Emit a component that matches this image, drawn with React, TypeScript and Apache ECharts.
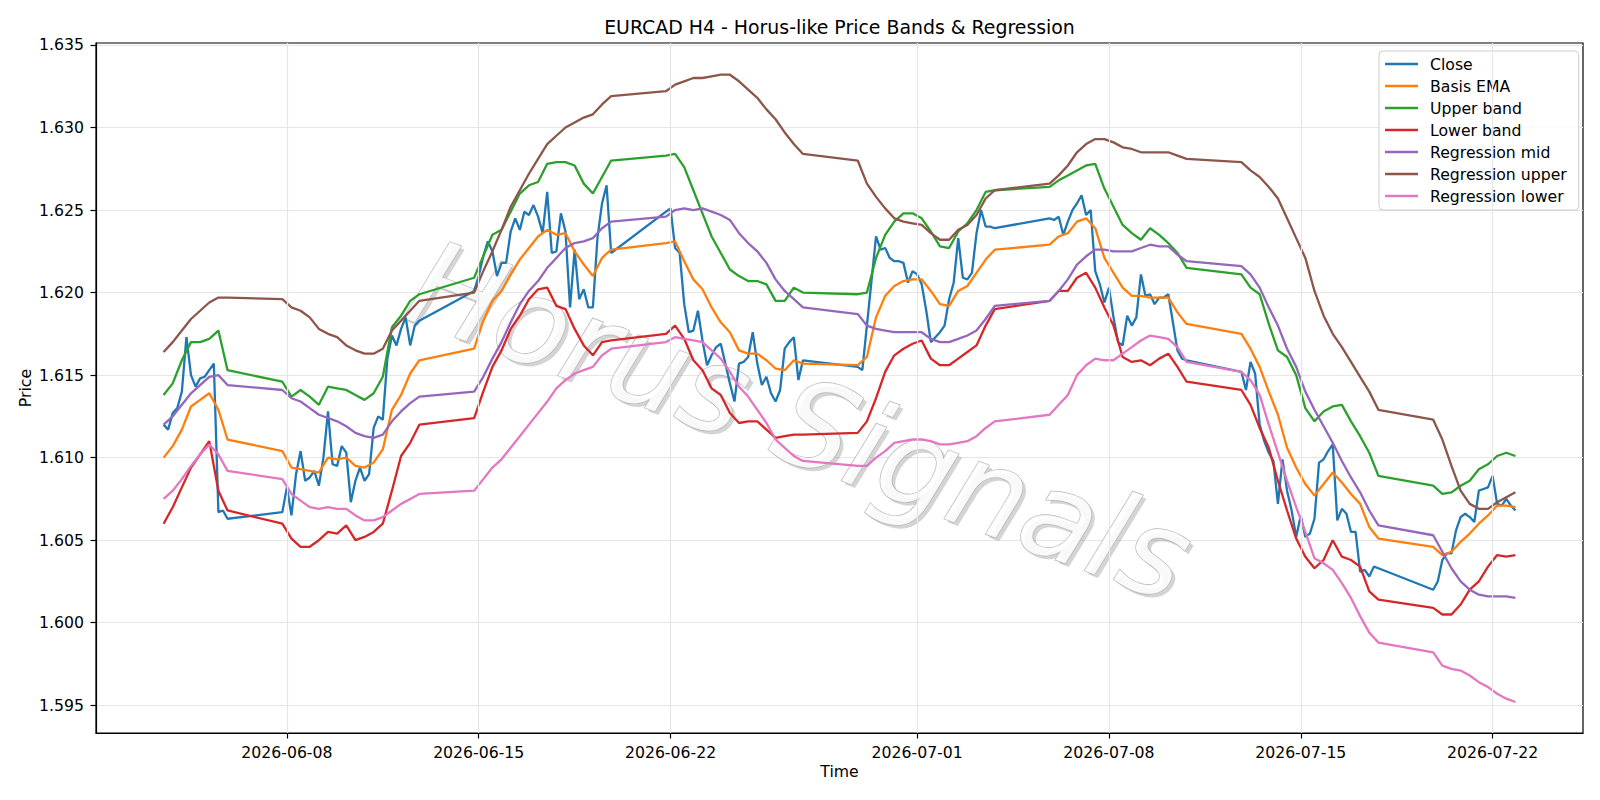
import React, { useEffect, useRef } from "react";
import * as echarts from "echarts";

// H4 trading segments (UTC start of first bar, number of 4h bars)
const SEG_START = [
  "2026-06-03T12:00:00Z", "2026-06-07T20:00:00Z", "2026-06-14T20:00:00Z", "2026-06-21T20:00:00Z",
  "2026-06-28T20:00:00Z", "2026-07-05T20:00:00Z", "2026-07-12T20:00:00Z", "2026-07-19T20:00:00Z",
];
const SEG_BARS = [15, 31, 31, 31, 31, 31, 31, 19];

const X_TICKS = ["2026-06-08", "2026-06-15", "2026-06-22", "2026-07-01", "2026-07-08", "2026-07-15", "2026-07-22"];
const Y_TICKS = [1.595, 1.6, 1.605, 1.61, 1.615, 1.62, 1.625, 1.63, 1.635];
const Y_MIN = 1.59332;
const Y_MAX = 1.63512;

// Close, every 4h bar
const CLOSE = [
  1.6120, 1.6117, 1.6127, 1.6130, 1.6140, 1.6173, 1.6150, 1.6143, 1.6148, 1.6149, 1.6153, 1.6157, 1.6067, 1.6068, 1.6063,
  1.6067, 1.6082, 1.6065, 1.6090, 1.6104, 1.6086, 1.6088, 1.6092, 1.6083, 1.6100, 1.6128, 1.6096, 1.6095, 1.6107, 1.6103, 1.6073, 1.6086, 1.6094, 1.6086, 1.6090, 1.6118, 1.6125, 1.6123, 1.6160, 1.6174, 1.6168, 1.6178, 1.6185, 1.6168, 1.6180, 1.6183,
  1.6201, 1.6210, 1.6222, 1.6231, 1.6225, 1.6210, 1.6218, 1.6218, 1.6237, 1.6245, 1.6238, 1.6249, 1.6247, 1.6253, 1.6246, 1.6236, 1.6261, 1.6224, 1.6225, 1.6248, 1.6237, 1.6191, 1.6226, 1.6196, 1.6202, 1.6191, 1.6191, 1.6233, 1.6254, 1.6265, 1.6224,
  1.6249, 1.6251, 1.6227, 1.6224, 1.6193, 1.6176, 1.6177, 1.6189, 1.6171, 1.6156, 1.6162, 1.6167, 1.6169, 1.6157, 1.6145, 1.6134, 1.6157, 1.6158, 1.6161, 1.6176, 1.6157, 1.6144, 1.6149, 1.6139, 1.6134, 1.6141, 1.6166, 1.6170, 1.6173, 1.6147, 1.6159,
  1.6155, 1.6153, 1.6180, 1.6207, 1.6234, 1.6226, 1.6227, 1.6221, 1.6219, 1.6219, 1.6218, 1.6206, 1.6213, 1.6211, 1.6205, 1.6189, 1.6170, 1.6173, 1.6176, 1.6180, 1.6196, 1.6206, 1.6233, 1.6209, 1.6208, 1.6212, 1.6236, 1.6250, 1.6240, 1.6240, 1.6239,
  1.6245, 1.6244, 1.6246, 1.6235, 1.6243, 1.6250, 1.6254, 1.6259, 1.6247, 1.6250, 1.6213, 1.6205, 1.6194, 1.6203, 1.6185, 1.6170, 1.6168, 1.6186, 1.6180, 1.6185, 1.6211, 1.6198, 1.6199, 1.6193, 1.6197, 1.6197, 1.6199, 1.6182, 1.6165, 1.6160, 1.6159,
  1.6152, 1.6141, 1.6158, 1.6151, 1.6120, 1.6110, 1.6103, 1.6098, 1.6072, 1.6099, 1.6080, 1.6068, 1.6052, 1.6065, 1.6052, 1.6054, 1.6063, 1.6097, 1.6099, 1.6104, 1.6108, 1.6062, 1.6069, 1.6066, 1.6055, 1.6055, 1.6031, 1.6032, 1.6028, 1.6034, 1.6033,
  1.6020, 1.6025, 1.6038, 1.6042, 1.6042, 1.6056, 1.6064, 1.6066, 1.6064, 1.6061, 1.6080, 1.6081, 1.6082, 1.6089, 1.6072, 1.6071, 1.6075, 1.6071, 1.6068,
];

// Smooth series, every second 4h bar of each segment
const BASIS_EMA = [
  1.6100, 1.6107, 1.6117, 1.6131, 1.6135, 1.6139, 1.6129, 1.6111,
  1.6104, 1.6094, 1.6093, 1.6092, 1.6091, 1.6100, 1.6099, 1.6100, 1.6095, 1.6094, 1.6097, 1.6105, 1.6129, 1.6138, 1.6151, 1.6159,
  1.6166, 1.6183, 1.6195, 1.6201, 1.6211, 1.6220, 1.6227, 1.6234, 1.6238, 1.6235, 1.6236, 1.6225, 1.6217, 1.6210, 1.6221, 1.6226,
  1.6230, 1.6231, 1.6219, 1.6208, 1.6202, 1.6191, 1.6182, 1.6176, 1.6165, 1.6163, 1.6163, 1.6159, 1.6154, 1.6153, 1.6159, 1.6157,
  1.6156, 1.6161, 1.6185, 1.6198, 1.6204, 1.6207, 1.6208, 1.6208, 1.6201, 1.6193, 1.6192, 1.6201, 1.6204, 1.6212, 1.6220, 1.6226,
  1.6229, 1.6234, 1.6236, 1.6243, 1.6245, 1.6239, 1.6221, 1.6212, 1.6203, 1.6198, 1.6198, 1.6197, 1.6197, 1.6197, 1.6188, 1.6181,
  1.6175, 1.6166, 1.6155, 1.6140, 1.6126, 1.6106, 1.6094, 1.6084, 1.6077, 1.6084, 1.6091, 1.6085, 1.6078, 1.6072, 1.6058, 1.6051,
  1.6046, 1.6041, 1.6043, 1.6049, 1.6054, 1.6060, 1.6065, 1.6071, 1.6071, 1.6070,
];
const UPPER_BAND = [
  1.6138, 1.6145, 1.6159, 1.6170, 1.6170, 1.6172, 1.6177, 1.6153,
  1.6146, 1.6137, 1.6141, 1.6137, 1.6132, 1.6143, 1.6142, 1.6141, 1.6138, 1.6135, 1.6139, 1.6149, 1.6179, 1.6186, 1.6195, 1.6199,
  1.6209, 1.6222, 1.6235, 1.6238, 1.6249, 1.6260, 1.6265, 1.6267, 1.6278, 1.6279, 1.6279, 1.6277, 1.6266, 1.6260, 1.6270, 1.6280,
  1.6283, 1.6284, 1.6276, 1.6262, 1.6248, 1.6234, 1.6224, 1.6214, 1.6210, 1.6207, 1.6207, 1.6205, 1.6195, 1.6195, 1.6203, 1.6200,
  1.6199, 1.6200, 1.6221, 1.6235, 1.6243, 1.6248, 1.6248, 1.6245, 1.6237, 1.6228, 1.6227, 1.6237, 1.6242, 1.6250, 1.6261, 1.6262,
  1.6264, 1.6268, 1.6271, 1.6274, 1.6277, 1.6278, 1.6263, 1.6252, 1.6241, 1.6236, 1.6232, 1.6239, 1.6235, 1.6230, 1.6224, 1.6215,
  1.6211, 1.6203, 1.6199, 1.6181, 1.6165, 1.6161, 1.6150, 1.6130, 1.6122, 1.6128, 1.6131, 1.6132, 1.6122, 1.6113, 1.6103, 1.6089,
  1.6083, 1.6078, 1.6079, 1.6083, 1.6086, 1.6093, 1.6096, 1.6101, 1.6103, 1.6101,
];
const LOWER_BAND = [
  1.6060, 1.6070, 1.6082, 1.6094, 1.6102, 1.6110, 1.6080, 1.6068,
  1.6060, 1.6051, 1.6046, 1.6046, 1.6050, 1.6055, 1.6054, 1.6059, 1.6050, 1.6052, 1.6055, 1.6060, 1.6080, 1.6101, 1.6109, 1.6120,
  1.6124, 1.6140, 1.6155, 1.6165, 1.6178, 1.6186, 1.6196, 1.6202, 1.6203, 1.6192, 1.6190, 1.6178, 1.6168, 1.6162, 1.6170, 1.6171,
  1.6175, 1.6180, 1.6172, 1.6159, 1.6153, 1.6142, 1.6138, 1.6127, 1.6121, 1.6122, 1.6122, 1.6117, 1.6112, 1.6113, 1.6114, 1.6114,
  1.6115, 1.6122, 1.6136, 1.6152, 1.6162, 1.6166, 1.6169, 1.6171, 1.6160, 1.6156, 1.6156, 1.6160, 1.6164, 1.6168, 1.6180, 1.6190,
  1.6195, 1.6201, 1.6201, 1.6209, 1.6212, 1.6203, 1.6191, 1.6180, 1.6161, 1.6158, 1.6159, 1.6156, 1.6160, 1.6163, 1.6155, 1.6146,
  1.6141, 1.6132, 1.6118, 1.6106, 1.6086, 1.6068, 1.6051, 1.6040, 1.6033, 1.6038, 1.6050, 1.6040, 1.6038, 1.6034, 1.6019, 1.6014,
  1.6009, 1.6005, 1.6005, 1.6011, 1.6020, 1.6025, 1.6034, 1.6041, 1.6040, 1.6041,
];
const REG_MID = [
  1.6120, 1.6125, 1.6132, 1.6139, 1.6144, 1.6149, 1.6150, 1.6144,
  1.6141, 1.6136, 1.6134, 1.6130, 1.6126, 1.6124, 1.6122, 1.6119, 1.6115, 1.6113, 1.6112, 1.6114, 1.6122, 1.6128, 1.6133, 1.6137,
  1.6140, 1.6149, 1.6160, 1.6170, 1.6182, 1.6193, 1.6201, 1.6207, 1.6215, 1.6221, 1.6227, 1.6230, 1.6231, 1.6233, 1.6239, 1.6243,
  1.6246, 1.6250, 1.6251, 1.6250, 1.6251, 1.6249, 1.6247, 1.6244, 1.6236, 1.6230, 1.6225, 1.6218, 1.6208, 1.6201, 1.6196, 1.6191,
  1.6187, 1.6180, 1.6178, 1.6177, 1.6176, 1.6176, 1.6176, 1.6176, 1.6172, 1.6170, 1.6170, 1.6172, 1.6174, 1.6177, 1.6184, 1.6192,
  1.6195, 1.6201, 1.6208, 1.6217, 1.6222, 1.6226, 1.6226, 1.6225, 1.6225, 1.6225, 1.6227, 1.6229, 1.6228, 1.6228, 1.6223, 1.6219,
  1.6216, 1.6211, 1.6203, 1.6191, 1.6180, 1.6166, 1.6155, 1.6140, 1.6129, 1.6119, 1.6109, 1.6098, 1.6088, 1.6079, 1.6068, 1.6059,
  1.6053, 1.6043, 1.6033, 1.6025, 1.6020, 1.6017, 1.6016, 1.6016, 1.6016, 1.6015,
];
const REG_UPPER = [
  1.6164, 1.6170, 1.6177, 1.6184, 1.6189, 1.6194, 1.6197, 1.6197,
  1.6196, 1.6191, 1.6189, 1.6185, 1.6178, 1.6175, 1.6173, 1.6168, 1.6165, 1.6163, 1.6163, 1.6166, 1.6177, 1.6183, 1.6189, 1.6195,
  1.6200, 1.6213, 1.6225, 1.6238, 1.6252, 1.6262, 1.6272, 1.6281, 1.6290, 1.6295, 1.6300, 1.6303, 1.6306, 1.6308, 1.6314, 1.6319,
  1.6322, 1.6326, 1.6328, 1.6330, 1.6330, 1.6331, 1.6332, 1.6332, 1.6328, 1.6323, 1.6318, 1.6311, 1.6305, 1.6297, 1.6290, 1.6284,
  1.6280, 1.6266, 1.6258, 1.6251, 1.6245, 1.6243, 1.6242, 1.6241, 1.6236, 1.6232, 1.6232, 1.6238, 1.6241, 1.6247, 1.6257, 1.6262,
  1.6266, 1.6271, 1.6277, 1.6285, 1.6290, 1.6293, 1.6293, 1.6291, 1.6288, 1.6287, 1.6285, 1.6285, 1.6285, 1.6285, 1.6283, 1.6281,
  1.6279, 1.6274, 1.6270, 1.6264, 1.6257, 1.6245, 1.6233, 1.6221, 1.6201, 1.6186, 1.6175, 1.6167, 1.6158, 1.6149, 1.6140, 1.6129,
  1.6123, 1.6111, 1.6095, 1.6080, 1.6072, 1.6069, 1.6069, 1.6073, 1.6076, 1.6079,
];
const REG_LOWER = [
  1.6075, 1.6080, 1.6087, 1.6095, 1.6102, 1.6108, 1.6102, 1.6092,
  1.6087, 1.6078, 1.6074, 1.6070, 1.6069, 1.6070, 1.6069, 1.6069, 1.6065, 1.6062, 1.6062, 1.6064, 1.6068, 1.6072, 1.6075, 1.6078,
  1.6080, 1.6087, 1.6094, 1.6099, 1.6106, 1.6113, 1.6120, 1.6127, 1.6134, 1.6142, 1.6147, 1.6151, 1.6153, 1.6155, 1.6162, 1.6166,
  1.6170, 1.6173, 1.6172, 1.6171, 1.6170, 1.6165, 1.6160, 1.6152, 1.6143, 1.6137, 1.6129, 1.6121, 1.6111, 1.6106, 1.6101, 1.6098,
  1.6095, 1.6095, 1.6100, 1.6104, 1.6109, 1.6110, 1.6111, 1.6111, 1.6110, 1.6108, 1.6108, 1.6109, 1.6110, 1.6113, 1.6118, 1.6122,
  1.6126, 1.6132, 1.6138, 1.6150, 1.6156, 1.6160, 1.6159, 1.6159, 1.6163, 1.6167, 1.6171, 1.6174, 1.6173, 1.6172, 1.6167, 1.6158,
  1.6152, 1.6147, 1.6138, 1.6120, 1.6103, 1.6086, 1.6070, 1.6055, 1.6039, 1.6036, 1.6032, 1.6024, 1.6015, 1.6004, 1.5994, 1.5988,
  1.5982, 1.5974, 1.5972, 1.5971, 1.5968, 1.5964, 1.5961, 1.5957, 1.5954, 1.5952,
];

const SERIES_DEF: [string, string, number[], boolean][] = [
  ["Close", "#1f77b4", CLOSE, true],
  ["Basis EMA", "#ff7f0e", BASIS_EMA, false],
  ["Upper band", "#2ca02c", UPPER_BAND, false],
  ["Lower band", "#d62728", LOWER_BAND, false],
  ["Regression mid", "#9467bd", REG_MID, false],
  ["Regression upper", "#8c564b", REG_UPPER, false],
  ["Regression lower", "#e377c2", REG_LOWER, false],
];

const H4 = 4 * 3600 * 1000;
function barTimes(step: number): number[] {
  const out: number[] = [];
  SEG_START.forEach((s, k) => {
    const t0 = Date.parse(s);
    for (let j = 0; j < SEG_BARS[k]; j += step) out.push(t0 + j * H4);
  });
  return out;
}

const FONT = '"DejaVu Sans", sans-serif';
const LEGEND_LINE_ICON = "path://M0,5.85 L33,5.85 L33,8.15 L0,8.15 Z M0,0 L0.01,0 L0,0.01 Z M32.99,14 L33,14 L33,13.99 Z";
const WM_TEXT = "Horus Signals";
const WM_X = 800;
const WM_Y = 421;
const WM_ROT = -0.355;

function wmText(dx: number, dy: number, style: any, z: number) {
  return {
    type: "text",
    x: WM_X + dx,
    y: WM_Y + dy,
    rotation: WM_ROT,
    z,
    silent: true,
    style: {
      text: WM_TEXT,
      font: `italic 120px ${FONT}`,
      align: "center",
      verticalAlign: "middle",
      textAlign: "center",
      textVerticalAlign: "middle",
      ...style,
    },
  };
}

export default function App() {
  const ref = useRef<HTMLDivElement>(null);
  useEffect(() => {
    if (!ref.current) return;
    const chart = echarts.init(ref.current, null, { renderer: "svg" });
    const allTimes = barTimes(1);
    const halfTimes = barTimes(2);
    const tStart = allTimes[0];
    const tEnd = allTimes[allTimes.length - 1];
    const span = tEnd - tStart;
    const xMin = tStart - 0.05 * span;
    const xMax = tEnd + 0.05 * span;
    const tickMs = X_TICKS.map((d) => Date.parse(d + "T00:00:00Z"));

    const lineSeries = SERIES_DEF.map(([name, color, vals, full]) => {
      const times = full ? allTimes : halfTimes;
      const n = Math.min(times.length, vals.length);
      const data: [number, number][] = [];
      for (let i = 0; i < n; i++) data.push([times[i], vals[i]]);
      return {
        name,
        type: "line",
        symbol: "none",
        data,
        z: 3,
        lineStyle: { color, width: 2.3 },
        itemStyle: { color },
        emphasis: { disabled: true },
        silent: true,
      };
    });

    const option: any = {
      animation: false,
      backgroundColor: "#ffffff",
      textStyle: { fontFamily: FONT },
      grid: {
        left: 96, right: 17, top: 43, bottom: 67,
        show: true, borderColor: "#000", borderWidth: 1.2, backgroundColor: "transparent",
      },
      xAxis: {
        type: "value",
        min: xMin,
        max: xMax,
        scale: true,
        axisLine: { show: true, onZero: false, lineStyle: { color: "#000", width: 1.2 } },
        axisTick: { show: true, customValues: tickMs, length: 5.5, lineStyle: { color: "#000", width: 1.2 } },
        axisLabel: {
          customValues: tickMs,
          margin: 11,
          color: "#000",
          fontSize: 15.7,
          fontFamily: FONT,
          hideOverlap: false,
          formatter: (v: number) => new Date(v).toISOString().slice(0, 10),
        },
        splitLine: { show: false },
      },
      yAxis: {
        type: "value",
        min: Y_MIN,
        max: Y_MAX,
        minInterval: 0.005,
        maxInterval: 0.005,
        scale: true,
        axisLine: { show: true, onZero: false, lineStyle: { color: "#000", width: 1.2 } },
        axisTick: { show: true, customValues: Y_TICKS, length: 5.5, lineStyle: { color: "#000", width: 1.2 } },
        axisLabel: {
          customValues: Y_TICKS,
          margin: 12,
          color: "#000",
          fontSize: 15.7,
          fontFamily: FONT,
          formatter: (v: number) => v.toFixed(3),
        },
        splitLine: { show: true, lineStyle: { color: "#e6e6e6", width: 1.2 } },
      },
      legend: {
        data: SERIES_DEF.map((s) => ({ name: s[0], icon: LEGEND_LINE_ICON, itemStyle: { color: s[1] } })),
        orient: "vertical",
        left: 1379,
        top: 51,
        itemWidth: 33,
        itemHeight: 14,
        itemGap: 6,
        padding: [5, 12, 6, 6],
        backgroundColor: "rgba(255,255,255,0.8)",
        borderColor: "#cccccc",
        borderWidth: 1,
        borderRadius: 4,
        selectedMode: false,
        textStyle: { color: "#000", fontSize: 15.7, fontFamily: FONT, lineHeight: 16, padding: [0, 0, 0, 7] },
      },
      graphic: [
        wmText(3.5, 3.5, { fill: "rgba(120,120,120,0.32)" }, 1),
        wmText(0, 0, { fill: "rgba(255,255,255,0.85)", stroke: "rgba(175,175,175,0.9)", lineWidth: 1.3 }, 2),
        {
          type: "text",
          x: 839.5,
          y: 26.5,
          z: 10,
          silent: true,
          style: {
            text: "EURCAD H4 - Horus-like Price Bands & Regression",
            font: `18.9px ${FONT}`,
            align: "center",
            verticalAlign: "middle",
            textAlign: "center",
            textVerticalAlign: "middle",
            fill: "#000",
          },
        },
        {
          type: "text",
          x: 839.5,
          y: 771.5,
          z: 10,
          silent: true,
          style: {
            text: "Time",
            font: `15.7px ${FONT}`,
            align: "center",
            verticalAlign: "middle",
            textAlign: "center",
            textVerticalAlign: "middle",
            fill: "#000",
          },
        },
        {
          type: "text",
          x: 25.5,
          y: 388,
          rotation: Math.PI / 2,
          z: 10,
          silent: true,
          style: {
            text: "Price",
            font: `15.7px ${FONT}`,
            align: "center",
            verticalAlign: "middle",
            textAlign: "center",
            textVerticalAlign: "middle",
            fill: "#000",
          },
        },
      ],
      series: [
        {
          name: "__grid",
          type: "line",
          symbol: "none",
          z: 1,
          silent: true,
          data: [[tStart, CLOSE[0]]],
          lineStyle: { opacity: 0, width: 0 },
          markLine: {
            silent: true,
            symbol: ["none", "none"],
            label: { show: false },
            lineStyle: { color: "#e6e6e6", width: 1.2, type: "solid" },
            emphasis: { disabled: true },
            data: tickMs.map((t) => ({ xAxis: t })),
          },
        },
        ...lineSeries,
      ],
    };
    chart.setOption(option);
    return () => chart.dispose();
  }, []);
  return (
    <div
      ref={ref}
      style={{ position: "fixed", left: 0, top: 0, width: 1600, height: 800, background: "#fff" }}
    />
  );
}
